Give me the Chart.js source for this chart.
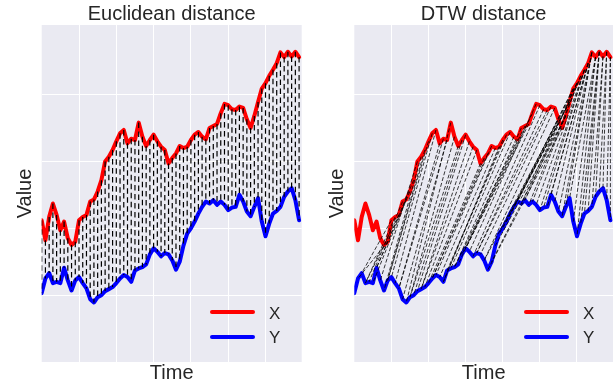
<!DOCTYPE html>
<html>
<head>
<meta charset="utf-8">
<title>Euclidean vs DTW distance</title>
<script src="https://cdn.jsdelivr.net/npm/chart.js@4.4.1/dist/chart.umd.min.js"></script>
<style>
  html, body { margin: 0; padding: 0; background: #fff; overflow: hidden; }
  #wrap { position: relative; width: 616px; height: 385px; }
  canvas { position: absolute; top: 0; }
  .swatch { position: absolute; width: 45px; height: 4px; border-radius: 2px; }
  .label { position: absolute; font-family: 'Liberation Sans', Arial, sans-serif; font-size: 17px; line-height: 17px; color: #262626; }
</style>
</head>
<body>
<div id="wrap">
  <canvas id="euclid" width="308" height="385" style="left:0"></canvas>
  <canvas id="dtw" width="308" height="385" style="left:308px"></canvas>

  <div class="swatch" style="left:210px; top:310px; background:#ff0000"></div>
  <div class="label" style="left:269px; top:305px">X</div>
  <div class="swatch" style="left:210px; top:335px; background:#0000ff"></div>
  <div class="label" style="left:269px; top:329px">Y</div>

  <div class="swatch" style="left:524px; top:310px; background:#ff0000"></div>
  <div class="label" style="left:583px; top:305px">X</div>
  <div class="swatch" style="left:524px; top:335px; background:#0000ff"></div>
  <div class="label" style="left:583px; top:329px">Y</div>
</div>
<script>
// values, one per time step (0..69)
const X = [1.12, 0.82, 1.17, 1.37, 1.20, 0.97, 1.10, 0.85, 0.75, 0.80,
           1.12, 1.17, 1.20, 1.40, 1.43, 1.55, 1.72, 2.00, 2.07, 2.17,
           2.30, 2.42, 2.47, 2.27, 2.34, 2.32, 2.58, 2.37, 2.23, 2.32,
           2.40, 2.30, 2.22, 2.17, 1.97, 2.05, 2.12, 2.23, 2.20, 2.22,
           2.32, 2.40, 2.44, 2.37, 2.33, 2.50, 2.53, 2.56, 2.72, 2.86,
           2.84, 2.78, 2.77, 2.82, 2.80, 2.63, 2.50, 2.68, 2.89, 3.09,
           3.17, 3.28, 3.37, 3.47, 3.63, 3.56, 3.64, 3.57, 3.64, 3.56];
const Y = [0.03, 0.25, 0.33, 0.18, 0.20, 0.18, 0.41, 0.22, 0.07, 0.22,
           0.27, 0.18, 0.10, -0.06, -0.11, -0.03, 0.00, 0.06, 0.09, 0.12,
           0.18, 0.25, 0.30, 0.27, 0.20, 0.37, 0.40, 0.42, 0.46, 0.61,
           0.70, 0.65, 0.58, 0.63, 0.61, 0.52, 0.38, 0.50, 0.74, 0.92,
           1.00, 1.10, 1.22, 1.32, 1.40, 1.37, 1.42, 1.35, 1.40, 1.35,
           1.27, 1.31, 1.32, 1.50, 1.40, 1.25, 1.18, 1.32, 1.45, 1.10,
           0.88, 1.07, 1.22, 1.26, 1.32, 1.47, 1.55, 1.60, 1.42, 1.12];

// warping path seen in the DTW panel: X index -> Y index
const dtwPathX = [9, 10, 11, 12, 13, 14, 15, 16, 17, 18, 19, 20, 21, 22, 23, 24, 25, 26, 27, 28,
                  29, 30, 31, 32, 33, 34, 35, 36, 37, 38, 39, 40, 41, 42, 43, 44, 45, 46, 47, 48,
                  49, 50, 51, 52, 53, 54, 55, 56, 57, 57, 58, 58, 58, 59, 59, 60, 60, 60, 61, 61,
                  62, 62, 62, 63, 63, 63, 64, 64, 64, 65, 65, 65, 66, 66, 66, 67, 67, 68, 68, 69, 69];
const dtwPathY = [1, 2, 3, 3, 4, 5, 6, 6, 7, 8, 9, 9, 10, 11, 12, 12, 13, 14, 15, 15,
                  16, 17, 18, 18, 19, 20, 21, 21, 22, 23, 24, 24, 25, 26, 27, 27, 28, 29, 30, 30,
                  31, 32, 33, 33, 34, 35, 35, 36, 37, 38, 39, 40, 41, 42, 43, 44, 45, 46, 47, 48,
                  49, 50, 51, 52, 53, 54, 55, 56, 57, 58, 59, 60, 61, 62, 63, 64, 65, 66, 67, 68, 69];

const xGrid = [10, 20, 30, 40, 50, 60];
const yGrid = [0, 1, 2, 3];

const FONT = "'Liberation Sans', Arial, sans-serif";
const TEXT = '#262626';

// seaborn darkgrid background + title centred over the axes
const axesBg = {
    id: 'axesBg',
    beforeDraw(chart) {
        const {ctx, chartArea: a} = chart;
        ctx.save();
        ctx.fillStyle = '#EAEAF2';
        ctx.fillRect(a.left, a.top, a.right - a.left, a.bottom - a.top);
        ctx.restore();
    },
    afterLayout(chart) {
        const t = chart.titleBlock;
        if (t) {
            t.left = chart.chartArea.left;
            t.right = chart.chartArea.right;
        }
    }
};

function series(label, values, color) {
    return {
        label: label,
        data: values.map((v, i) => ({x: i, y: v})),
        borderColor: color,
        borderWidth: 4,
        pointRadius: 0,
        borderJoinStyle: 'round',
        borderCapStyle: 'round',
        order: 1
    };
}

function links(ix, iy, color, width, dash) {
    return ix.map((i, k) => ({
        data: [{x: i, y: X[i]}, {x: iy[k], y: Y[iy[k]]}],
        borderColor: color,
        borderWidth: width,
        borderDash: dash,
        pointRadius: 0,
        order: 0
    }));
}

function makeChart(id, title, connectors, yWidth, padRight, yTitlePad) {
    new Chart(document.getElementById(id), {
        type: 'line',
        data: {
            datasets: [series('X', X, '#ff0000'), series('Y', Y, '#0000ff')].concat(connectors)
        },
        options: {
            responsive: false,
            animation: false,
            devicePixelRatio: 1,
            layout: {padding: {left: 0, right: padRight, top: 0, bottom: 0}},
            plugins: {
                legend: {display: false},
                tooltip: {enabled: false},
                title: {
                    display: true,
                    text: title,
                    color: TEXT,
                    font: {family: FONT, size: 20, weight: 'normal', lineHeight: 1},
                    padding: {top: 4, bottom: 1}
                }
            },
            scales: {
                x: {
                    type: 'linear',
                    min: 0,
                    max: 69.7,
                    afterBuildTicks: s => { s.ticks = xGrid.map(v => ({value: v})); },
                    afterFit: s => { s.height = 23; },
                    ticks: {display: false},
                    grid: {color: '#ffffff', lineWidth: 1, drawTicks: false},
                    border: {display: false},
                    title: {display: true, text: 'Time', color: TEXT,
                            font: {family: FONT, size: 20, lineHeight: 1}, padding: {top: 0, bottom: 1.2}}
                },
                y: {
                    type: 'linear',
                    min: -1.0,
                    max: 4.04,
                    afterBuildTicks: s => { s.ticks = yGrid.map(v => ({value: v})); },
                    afterFit: s => { s.width = yWidth; },
                    ticks: {display: false},
                    grid: {color: '#ffffff', lineWidth: 1, drawTicks: false},
                    border: {display: false},
                    title: {display: true, text: 'Value', color: TEXT,
                            font: {family: FONT, size: 20, lineHeight: 1}, padding: {top: yTitlePad, bottom: 0}}
                }
            }
        },
        plugins: [axesBg]
    });
}

// Euclidean: every X[i] is matched with Y[i]
const sameIndex = X.map((v, i) => i);
makeChart('euclid', 'Euclidean distance',
          links(sameIndex, sameIndex, '#000000', 1.2, [5.5, 3.5]), 41.7, 6.3, 15.8);
makeChart('dtw', 'DTW distance',
          links(dtwPathX, dtwPathY, 'rgba(0,0,0,0.85)', 0.9, [4, 2]), 46.3, 3, 19.8);
</script>
</body>
</html>
